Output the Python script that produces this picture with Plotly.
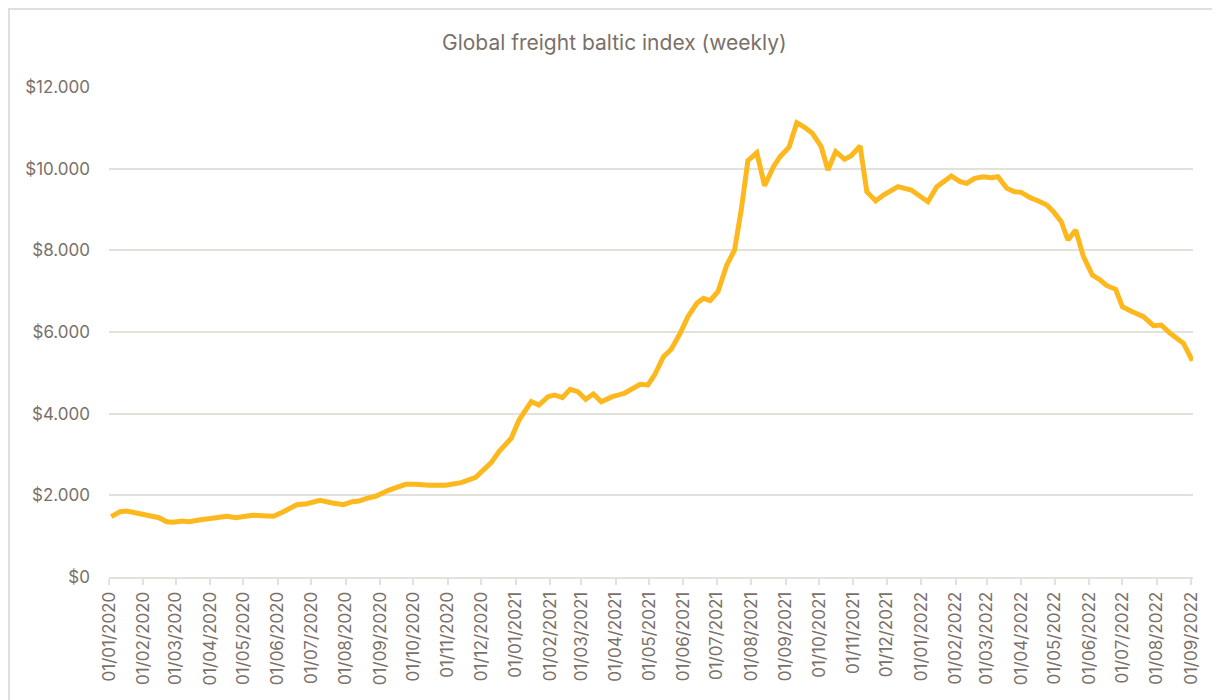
import plotly.graph_objects as go

dates = [
    "2020-01-03", "2020-01-11", "2020-01-17", "2020-01-28", "2020-02-09", "2020-02-15",
    "2020-02-22", "2020-02-28", "2020-03-07", "2020-03-13", "2020-03-22", "2020-03-31",
    "2020-04-10", "2020-04-16", "2020-04-24", "2020-04-30", "2020-05-09", "2020-05-18",
    "2020-05-28", "2020-06-06", "2020-06-18", "2020-06-27", "2020-07-09", "2020-07-20",
    "2020-07-30", "2020-08-07", "2020-08-13", "2020-08-20", "2020-08-28", "2020-09-09",
    "2020-09-24", "2020-10-03", "2020-10-15", "2020-10-30", "2020-11-13", "2020-11-26",
    "2020-12-04", "2020-12-10", "2020-12-17", "2020-12-28", "2021-01-04", "2021-01-15",
    "2021-01-22", "2021-01-30", "2021-02-05", "2021-02-12", "2021-02-19", "2021-02-26",
    "2021-03-05", "2021-03-12", "2021-03-19", "2021-03-29", "2021-04-09", "2021-04-16",
    "2021-04-23", "2021-04-30", "2021-05-06", "2021-05-14", "2021-05-21", "2021-05-29",
    "2021-06-05", "2021-06-13", "2021-06-19", "2021-06-25", "2021-07-02", "2021-07-10",
    "2021-07-17", "2021-07-23", "2021-07-29", "2021-08-06", "2021-08-13", "2021-08-21",
    "2021-08-27", "2021-09-04", "2021-09-11", "2021-09-18", "2021-09-25", "2021-10-03",
    "2021-10-09", "2021-10-16", "2021-10-24", "2021-10-30", "2021-11-07", "2021-11-13",
    "2021-11-21", "2021-11-28", "2021-12-05", "2021-12-11", "2021-12-23", "2021-12-31",
    "2022-01-07", "2022-01-15", "2022-01-21", "2022-01-28", "2022-02-05", "2022-02-11",
    "2022-02-18", "2022-02-26", "2022-03-05", "2022-03-11", "2022-03-19", "2022-03-26",
    "2022-04-01", "2022-04-09", "2022-04-16", "2022-04-24", "2022-04-30", "2022-05-07",
    "2022-05-13", "2022-05-20", "2022-05-27", "2022-06-04", "2022-06-11", "2022-06-17",
    "2022-06-25", "2022-07-01", "2022-07-10", "2022-07-20", "2022-07-29", "2022-08-05",
    "2022-08-13", "2022-08-25", "2022-09-02",
]

values = [
    1477, 1600, 1616, 1560, 1477, 1452,
    1354, 1339, 1371, 1354, 1396, 1428,
    1494, 1486, 1452, 1469, 1511, 1502,
    1486, 1600, 1771, 1796, 1878, 1812,
    1771, 1845, 1861, 1927, 1976, 2130,
    2270, 2270, 2245, 2245, 2310, 2441,
    2662, 2800, 3069, 3397, 3845, 4293,
    4212, 4416, 4457, 4391, 4597, 4538,
    4352, 4481, 4293, 4416, 4499, 4597,
    4719, 4702, 4947, 5395, 5576, 5968,
    6375, 6703, 6825, 6767, 6987, 7641,
    8008, 8988, 10196, 10392, 9583, 10049,
    10294, 10523, 11126, 11013, 10866, 10538,
    9968, 10416, 10229, 10318, 10555, 9436,
    9208, 9355, 9453, 9559, 9478, 9331,
    9191, 9559, 9681, 9821, 9681, 9641,
    9764, 9803, 9779, 9803, 9519, 9436,
    9420, 9289, 9216, 9110, 8946, 8702,
    8253, 8498, 7844, 7396, 7274, 7134,
    7046, 6620, 6497, 6375, 6155, 6171,
    5968, 5723, 5297,
]

tick_dates = [
    "2020-01-01", "2020-02-01", "2020-03-01", "2020-04-01", "2020-05-01", "2020-06-01",
    "2020-07-01", "2020-08-01", "2020-09-01", "2020-10-01", "2020-11-01", "2020-12-01",
    "2021-01-01", "2021-02-01", "2021-03-01", "2021-04-01", "2021-05-01", "2021-06-01",
    "2021-07-01", "2021-08-01", "2021-09-01", "2021-10-01", "2021-11-01", "2021-12-01",
    "2022-01-01", "2022-02-01", "2022-03-01", "2022-04-01", "2022-05-01", "2022-06-01",
    "2022-07-01", "2022-08-01", "2022-09-01",
]
y_ticks = [0, 2000, 4000, 6000, 8000, 10000, 12000]
y_ticktext = ["$" + f"{v:,}".replace(",", ".") for v in y_ticks]

title_text = "Global freight baltic index (weekly)"

TEXT = "#7b7069"
GRID = "#e4e0dc"
LINE = "#FDB81E"
FONT = "Inter, Roboto, 'Open Sans', sans-serif"

fig = go.Figure()
fig.add_trace(go.Scatter(
    x=dates, y=values, mode="lines",
    line=dict(color=LINE, width=5, shape="linear"),
    hoverinfo="x+y", showlegend=False,
))

fig.update_layout(
    width=1220, height=700,
    margin=dict(l=101, r=35, t=79, b=131, autoexpand=False),
    paper_bgcolor="white", plot_bgcolor="white",
    font=dict(family=FONT, color=TEXT, size=16),
    title=dict(text=title_text, x=0.497, xanchor="center", y=0.951, yanchor="middle",
               font=dict(family=FONT, size=21, color=TEXT)),
    xaxis=dict(
        type="date",
        range=["2020-01-01", "2022-09-02 14:00"],
        tickmode="array", tickvals=tick_dates, tickformat="%d/%m/%Y",
        tickangle=-90,
        showgrid=False, zeroline=False,
        showline=True, linecolor=GRID, linewidth=2,
        ticks="outside", ticklen=6, tickwidth=2, tickcolor=GRID,
        tickfont=dict(family=FONT, size=17, color=TEXT),
        automargin=False,
    ),
    yaxis=dict(
        range=[0, 12000],
        tickmode="array", tickvals=y_ticks, ticktext=y_ticktext,
        showgrid=True, gridcolor=GRID, gridwidth=2,
        zeroline=False, showline=False, ticks="",
        ticklabelstandoff=18,
        tickfont=dict(family=FONT, size=17, color=TEXT),
        automargin=False,
    ),
    shapes=[dict(
        type="rect", xref="paper", yref="paper",
        x0=-0.0923, x1=1.1, y0=-0.3, y1=1.1592,
        line=dict(color="#e2deda", width=2), fillcolor="rgba(0,0,0,0)", layer="below",
    )],
)

fig.write_html("out.html")
